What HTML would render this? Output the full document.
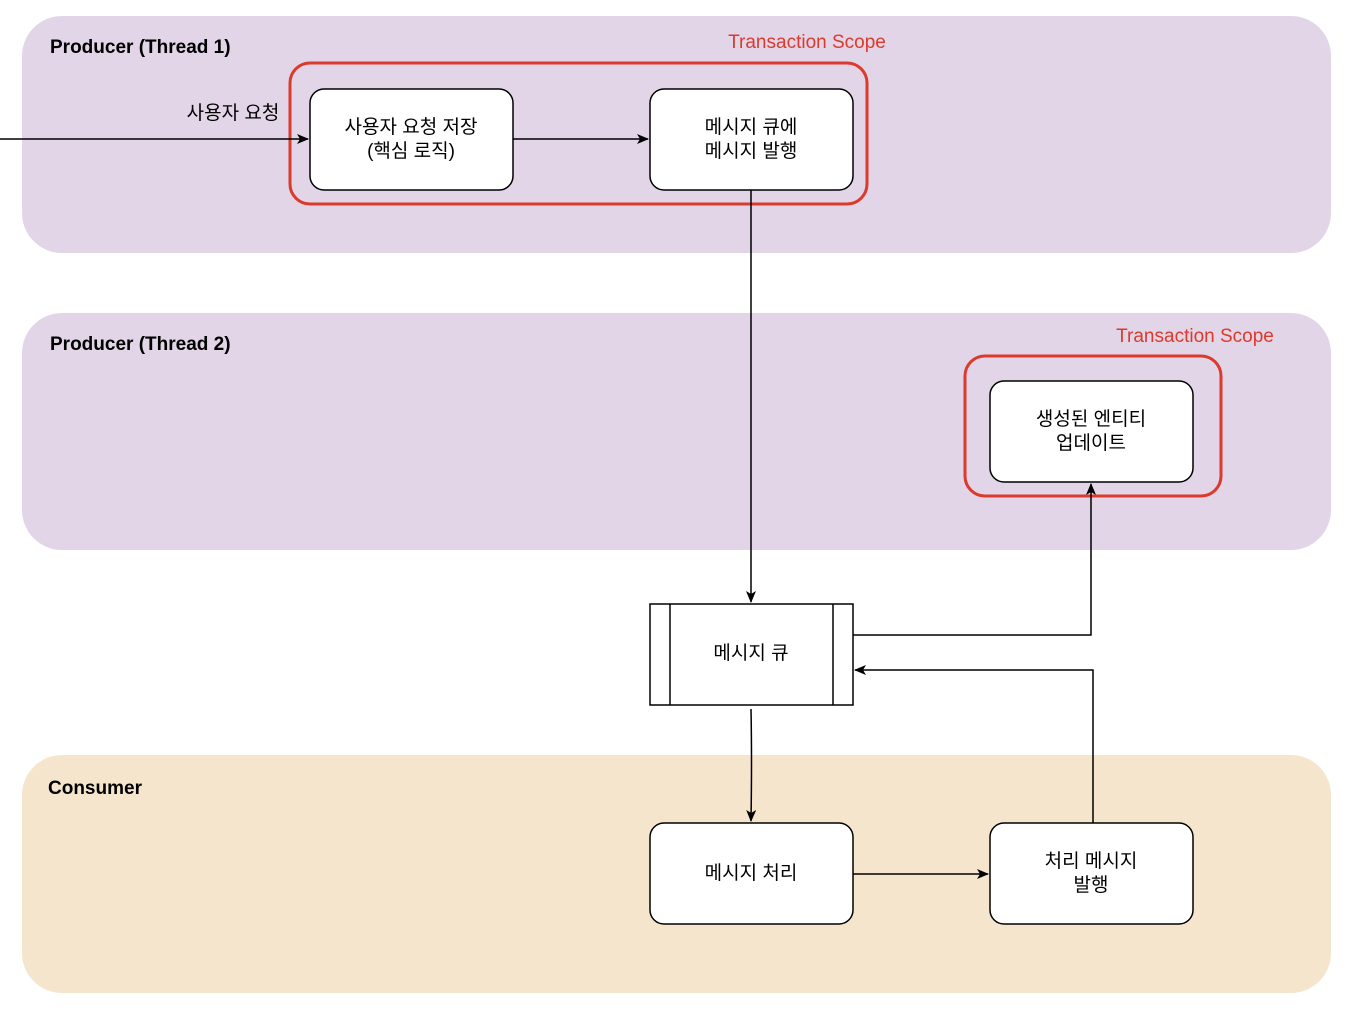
<!DOCTYPE html>
<html><head><meta charset="utf-8"><style>html,body{margin:0;padding:0;background:#fff}svg{display:block}</style></head>
<body>
<svg width="1348" height="1011" viewBox="0 0 1348 1011" xmlns="http://www.w3.org/2000/svg" font-family="'Liberation Sans','Noto Sans CJK KR','NanumGothic',sans-serif">
<defs><marker id="a" markerWidth="12" markerHeight="10" refX="11" refY="5" orient="auto" markerUnits="userSpaceOnUse"><path d="M0,0 L12,5 L0,10 L3,5 z" fill="#000"/></marker></defs>
<rect x="22" y="16" width="1309" height="237" rx="40" fill="#e1d5e7"/>
<rect x="22" y="313" width="1309" height="237" rx="40" fill="#e1d5e7"/>
<rect x="22" y="755" width="1309" height="238" rx="40" fill="#f6e5cd"/>
<g font-weight="bold" font-size="19" fill="#000">
<text x="50" y="53">Producer (Thread 1)</text>
<text x="50" y="350">Producer (Thread 2)</text>
<text x="48" y="794">Consumer</text>
</g>
<g fill="#dc3a2c" font-size="19" text-anchor="middle">
<text x="807" y="48">Transaction Scope</text>
<text x="1195" y="342">Transaction Scope</text>
</g>
<rect x="290" y="63" width="577" height="141" rx="20" fill="none" stroke="#dc3a2c" stroke-width="3"/>
<rect x="965" y="356" width="256" height="140" rx="20" fill="none" stroke="#dc3a2c" stroke-width="3"/>
<g fill="#fff" stroke="#000" stroke-width="1.5">
<rect x="310" y="89" width="203" height="101" rx="14"/>
<rect x="650" y="89" width="203" height="101" rx="14"/>
<rect x="990" y="381" width="203" height="101" rx="14"/>
<rect x="650" y="604" width="203" height="101"/>
<rect x="650" y="823" width="203" height="101" rx="14"/>
<rect x="990" y="823" width="203" height="101" rx="14"/>
</g>
<g stroke="#000" stroke-width="1.5" fill="none">
<line x1="670" y1="604" x2="670" y2="705"/><line x1="833" y1="604" x2="833" y2="705"/>
<path d="M0,139 H308" marker-end="url(#a)"/>
<path d="M513,139 H648" marker-end="url(#a)"/>
<path d="M751,190 V602" marker-end="url(#a)"/>
<path d="M853,635 H1091 V484" marker-end="url(#a)"/>
<path d="M1093,823 V670 H855" marker-end="url(#a)"/>
<path d="M751,709 Q752,760 751,821" marker-end="url(#a)"/>
<path d="M853,874 H988" marker-end="url(#a)"/>
</g>
<g font-size="19" fill="#000" text-anchor="middle">
<text x="233" y="119">사용자 요청</text>
<text x="411" y="133">사용자 요청 저장</text><text x="411" y="157">(핵심 로직)</text>
<text x="751" y="133">메시지 큐에</text><text x="751" y="157">메시지 발행</text>
<text x="1091" y="425">생성된 엔티티</text><text x="1091" y="449">업데이트</text>
<text x="751" y="659">메시지 큐</text>
<text x="751" y="879">메시지 처리</text>
<text x="1091" y="867">처리 메시지</text><text x="1091" y="891">발행</text>
</g>
</svg>
</body></html>
